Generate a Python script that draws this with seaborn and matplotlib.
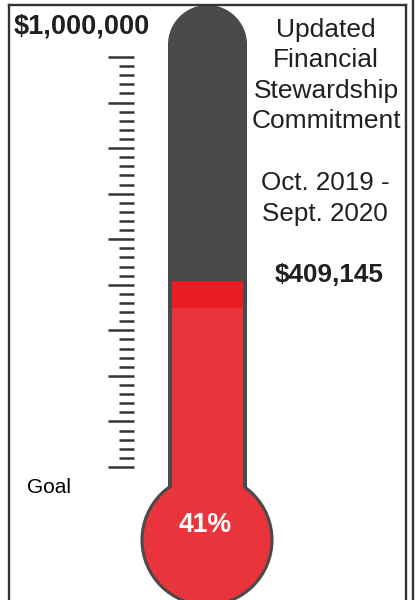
"""Thermometer chart: Financial Stewardship Commitment progress."""
import matplotlib
matplotlib.use("Agg")
import matplotlib.pyplot as plt
from matplotlib.patches import Circle, Rectangle
import numpy as np
import seaborn as sns

# --- data ---
GOAL = 1_000_000
RAISED = 409_145
goal_label = "$1,000,000"
raised_label = "$409,145"
pct_label = f"{RAISED / GOAL:.0%}"
title_lines = ["Updated", "Financial", "Stewardship", "Commitment"]
period_lines = ["Oct. 2019 -", "Sept. 2020"]
n_ticks = 46          # scale marks, a long one every 5
major_every = 5

# --- style ---
sns.set_theme(style="white")
plt.rcParams["font.family"] = ["Liberation Sans", "DejaVu Sans"]

DARK = "#4a4a4d"
RED = "#e9343b"
BRIGHT_RED = "#ec1c24"
INK = "#231f20"
LINE = "#333333"

# canvas in pixel units (y grows downward)
W, H = 420, 600
ZERO_Y, GOAL_Y = 436, 57          # where 0 and the goal sit on the tube
TUBE_L, TUBE_R, TUBE_TOP = 168, 247, 5
BULB_X, BULB_Y, BULB_R = 207, 540, 65
WALL = 4


def to_px(v):
    return ZERO_Y + (GOAL_Y - ZERO_Y) * v / GOAL


fig = plt.figure(figsize=(W / 100, H / 100), dpi=100)
ax = fig.add_axes([0, 0, 1, 1])
ax.set_xlim(0, W)
ax.set_ylim(H, 0)
ax.axis("off")

# frame lines
for xs, ys in [([9, 9], [5, H]), ([9, 405.5], [5, 5]),
               ([405.5, 405.5], [5, H]), ([413, 413], [0, H])]:
    ax.plot(xs, ys, color=LINE, lw=1.7, solid_capstyle="projecting")

# tube (empty part is dark): straight body plus round cap
tw = TUBE_R - TUBE_L
ax.add_patch(Rectangle((TUBE_L, TUBE_TOP + tw / 2), tw, 500 - TUBE_TOP - tw / 2,
                       fc=DARK, ec="none", lw=0, zorder=1))
ax.add_patch(Circle(((TUBE_L + TUBE_R) / 2, TUBE_TOP + tw / 2), tw / 2,
                    fc=DARK, ec="none", lw=0, zorder=1))

# bulb
ax.add_patch(Circle((BULB_X, BULB_Y), BULB_R, fc=RED, ec=DARK, lw=2.2, zorder=2))

# fill level from the raised amount
level = to_px(RAISED)
ax.bar((TUBE_L + TUBE_R) / 2, BULB_Y - level, bottom=level,
       width=tw - 2 * WALL, color=RED, edgecolor="none", linewidth=0, zorder=3)
ax.bar((TUBE_L + TUBE_R) / 2, 27, bottom=level,
       width=tw - 2 * WALL, color=BRIGHT_RED, edgecolor="none", linewidth=0,
       zorder=4)

# scale marks
tick_y = np.linspace(GOAL_Y, 467, n_ticks)
for i, y in enumerate(tick_y):
    x0 = 108 if i % major_every == 0 else 119
    ax.plot([x0, 134], [y, y], color=LINE, lw=1.8, solid_capstyle="butt")

# texts
ax.text(82, 34, goal_label, ha="center", va="baseline", fontsize=19.5,
        fontweight="bold", color=INK)
for i, line in enumerate(title_lines):
    ax.text(326, 37 + 30.3 * i, line, ha="center", va="baseline",
            fontsize=19, color=INK)
for i, line in enumerate(period_lines):
    ax.text(325, 190 + 31.5 * i, line, ha="center", va="baseline",
            fontsize=18.7, color=INK)
ax.text(329.5, 282, raised_label, ha="center", va="baseline", fontsize=18.8,
        fontweight="bold", color=INK)
ax.text(27, 493, "Goal", ha="left", va="baseline", fontsize=15, color="black")
ax.text(205, 532, pct_label, ha="center", va="baseline", fontsize=19.2,
        fontweight="bold", color="white", zorder=5)

fig.savefig("out.png", dpi=100)
plt.close(fig)
